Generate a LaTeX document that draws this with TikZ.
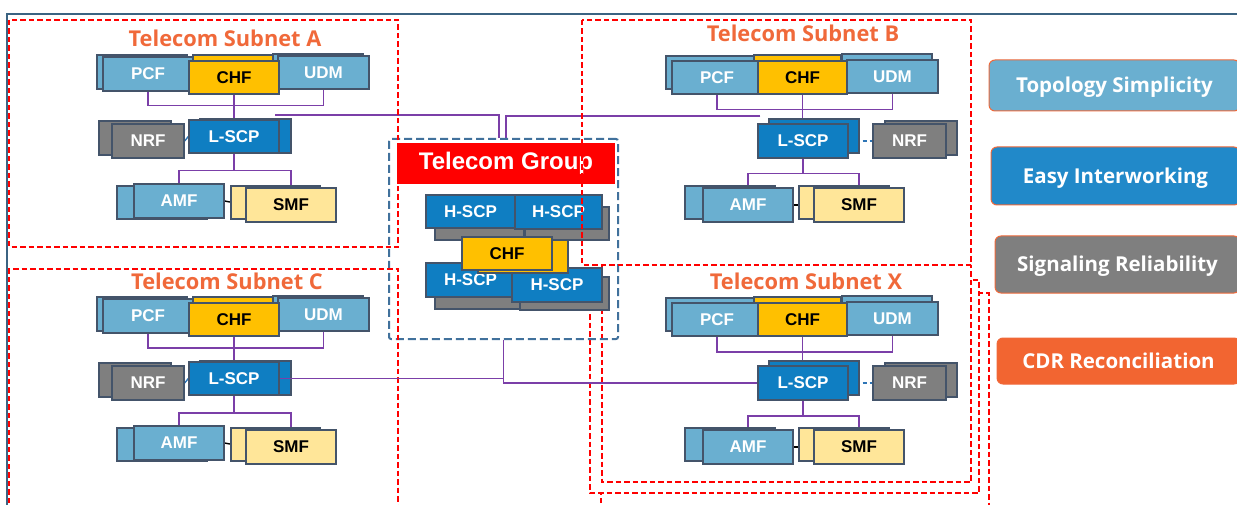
\documentclass[tikz,border=0pt]{standalone}
\usepackage{fontspec}
\setmainfont{Liberation Sans}
\newfontfamily\segfont{Open Sans}
\usetikzlibrary{calc}
\pgfdeclarelayer{rects}
\pgfdeclarelayer{lines}
\pgfdeclarelayer{top}
\pgfsetlayers{rects,lines,main,top}
\definecolor{lblue}{HTML}{6AAFD0}
\definecolor{dblue}{HTML}{0F7EC2}
\definecolor{nrfgray}{HTML}{7F7F7F}
\definecolor{chfy}{HTML}{FFC000}
\definecolor{smfy}{HTML}{FFE699}
\definecolor{edgec}{HTML}{44546A}
\definecolor{purp}{HTML}{7B3FA8}
\definecolor{grpblue}{HTML}{41719C}
\definecolor{framec}{HTML}{3B6382}
\definecolor{torange}{HTML}{F0693A}
\definecolor{easyblue}{HTML}{2189C9}
\definecolor{cdrc}{HTML}{F26531}
\definecolor{nrfline}{HTML}{2E75B6}
\tikzset{
  nf/.style={draw=edgec, line width=1.3pt, inner sep=0pt, text=white,
    font=\bfseries\fontsize{17}{17}\selectfont},
  lb/.style={nf, fill=lblue},
  db/.style={nf, fill=dblue},
  gy/.style={nf, fill=nrfgray},
  cy/.style={nf, fill=chfy, text=black},
  sy/.style={nf, fill=smfy, text=black},
  pl/.style={draw=purp, line width=1.7pt},
  bk/.style={draw=black, line width=1.4pt},
  nl/.style={draw=nrfline, line width=1.4pt},
  nld/.style={nl, dash pattern=on 4pt off 3pt},
  rd/.style={draw=red, line width=1.6pt, dash pattern=on 5.5pt off 3pt},
  ttl/.style={text=torange, anchor=base, inner sep=0pt,
    font=\segfont\bfseries\fontsize{21.8}{21.8}\selectfont},
  lg/.style={draw=torange, line width=1pt, rounded corners=6pt, text=white,
    inner sep=0pt, text height=14.6pt, text depth=0pt,
    font=\segfont\bfseries\fontsize{20.5}{20.5}\selectfont},
}
\newcommand\rb[7]{\node[#1, minimum width={#4-#2}, minimum height={#5-#3}] (#6) at ({(#2+#4)/2},{(#3+#5)/2}) {#7};}
% left-type subnet (A, C)
\newcommand\subL[2]{%
\begin{scope}[shift={(0,#2)}]
 \rb{lb}{97}{55}{187}{89}{pcf#1b}{}
 \rb{cy}{193}{55}{275}{88}{chf#1b}{}
 \rb{lb}{273}{54}{363}{87}{udm#1b}{}
 \rb{db}{200}{119}{291}{153}{lscp#1b}{}
 \rb{gy}{99}{121}{171}{155}{nrf#1b}{}
 \rb{lb}{117}{186}{207}{219}{amf#1b}{}
 \rb{sy}{231}{186}{320}{219}{smf#1b}{}
 \rb{lb}{103}{57}{193}{91}{pcf#1}{PCF}
 \rb{lb}{278}{56}{369}{89}{udm#1}{UDM}
 \rb{cy}{189}{61}{279}{94}{chf#1}{CHF}
 \rb{db}{189}{120}{279}{153}{lscp#1}{L-SCP}
 \rb{gy}{112}{124}{184}{158}{nrf#1}{NRF}
 \rb{lb}{134}{184}{224}{218}{amf#1}{AMF}
 \rb{sy}{246}{188}{336}{222}{smf#1}{SMF}
\end{scope}
\begin{pgfonlayer}{lines}
 \draw[pl] (pcf#1.south) -- ++(0,14) -| (udm#1.south);
 \draw[pl] (chf#1.south) -- (lscp#1.north);
 \draw[pl] (lscp#1.south) -- ++(0,17) coordinate (j#1);
 \draw[pl] (amf#1.north) |- (j#1) -| (smf#1.north);
 \draw[bk] (amf#1.east) -- (smf#1.west);
 \draw[nl] (nrf#1.east) -- (lscp#1.west);
\end{pgfonlayer}}
% right-type subnet (B, X)
\newcommand\subR[2]{%
\begin{scope}[shift={(0,#2)}]
 \rb{lb}{666}{56}{756}{89}{pcf#1b}{}
 \rb{cy}{754}{55}{841}{88}{chf#1b}{}
 \rb{lb}{842}{54}{932}{87}{udm#1b}{}
 \rb{db}{769}{119}{859}{153}{lscp#1b}{}
 \rb{gy}{885}{121}{957}{155}{nrf#1b}{}
 \rb{lb}{685}{186}{775}{219}{amf#1b}{}
 \rb{sy}{799}{186}{889}{219}{smf#1b}{}
 \rb{lb}{672}{61}{762}{94}{pcf#1}{PCF}
 \rb{lb}{847}{60}{938}{93}{udm#1}{UDM}
 \rb{cy}{758}{61}{847}{94}{chf#1}{CHF}
 \rb{db}{758}{124}{848}{158}{lscp#1}{L-SCP}
 \rb{gy}{873}{124}{946}{158}{nrf#1}{NRF}
 \rb{lb}{703}{188}{793}{222}{amf#1}{AMF}
 \rb{sy}{814}{188}{904}{222}{smf#1}{SMF}
\end{scope}
\begin{pgfonlayer}{lines}
 \draw[pl] (pcf#1.south) -- ++(0,15) -| (udm#1.south);
 \draw[pl] (chf#1.south) -- (chf#1.south |- lscp#1.north);
 \draw[pl] (lscp#1.south) -- ++(0,15) coordinate (j#1);
 \draw[pl] (amf#1.north) |- (j#1) -| (smf#1.north);
 \draw[bk] (amf#1.east) -- (smf#1.west);
 \draw[nld] (lscp#1.east) -- (nrf#1.west);
\end{pgfonlayer}}
\begin{document}
\begin{tikzpicture}[x=1pt, y=-1pt]
\useasboundingbox (0,0) rectangle (1237,505);
% outer frame
\draw[draw=framec, line width=2pt] (7,506) -- (7,14) -- (1238,14);
% subnet X stacked dashed frames (white-filled, back to front)
\begin{pgfonlayer}{rects}
 \fill[white] (601,293) rectangle (989,520);
 \draw[rd] (601,520) -- (601,293) -- (989,293) -- (989,520);
 \fill[white] (590,280) rectangle (979,493);
 \draw[rd] (590,280) rectangle (979,493);
 \fill[white] (602,265) rectangle (971,482);
 \draw[rd] (602,266) -- (602,482) -- (971,482) -- (971,266);
\end{pgfonlayer}
% subnet A, B, C frames
\begin{pgfonlayer}{top}
 \draw[rd] (9,20) rectangle (398,247);
 \draw[rd] (9,520) -- (9,269) -- (398,269) -- (398,520);
 \draw[rd] (582,20) rectangle (971,265);
\end{pgfonlayer}
% titles
\node[ttl] (tA) at (225,47) {Telecom Subnet A};
\node[ttl] (tB) at (803,42) {Telecom Subnet B};
\node[ttl] (tC) at (227,289) {Telecom Subnet C};
\node[ttl] (tX) at (806,289) {Telecom Subnet X};
% subnets
\subL{A}{0}
\subL{C}{242}
\subR{B}{0}
\subR{X}{242}
% telecom group
\node[draw=grpblue, line width=2pt, dash pattern=on 8pt off 4pt, rounded corners=2pt,
  minimum width=229, minimum height=200] (grp) at (503.5,239) {};
\rb{nf, fill=red, draw=none, font=\bfseries\fontsize{24}{24}\selectfont}{397}{143}{615}{184}{banner}{Telecom Group}
\rb{gy}{435}{207}{524}{240}{hg1}{}
\rb{gy}{525}{207}{609}{240}{hg2}{}
\rb{gy}{435}{275}{524}{309}{hg3}{}
\rb{gy}{520}{277}{609}{310}{hg4}{}
\rb{db}{426}{195}{515}{228}{hscp1}{H-SCP}
\rb{db}{515}{195}{602}{229}{hscp2}{H-SCP}
\rb{db}{426}{263}{515}{297}{hscp3}{H-SCP}
\rb{db}{512}{268}{602}{302}{hscp4}{H-SCP}
\rb{cy}{478}{240}{568}{273}{chfGb}{}
\rb{cy}{462}{237}{552}{270}{chfG}{CHF}
% connections to group
\begin{pgfonlayer}{lines}
 \draw[pl] ($(lscpAb.north)+(29.5,-3)$) -| ($(grp.north)+(-4.5,0)$);
 \draw[pl] ($(lscpBb.north west)+(-8,-2)$) -| ($(grp.north)+(2.5,0)$);
\end{pgfonlayer}
\begin{pgfonlayer}{top}
 \draw[pl] (lscpC.east) -| (grp.south);
 \draw[pl] (grp.south) |- (lscpX.west);
\end{pgfonlayer}
% legend
\node[lg, fill=lblue, minimum width=251, minimum height=51] (topo) at (1114.5,85.5) {Topology Simplicity};
\node[lg, fill=easyblue, minimum width=249, minimum height=58] (easy) at (1115.5,176) {Easy Interworking};
\node[lg, fill=nrfgray, minimum width=245, minimum height=57] (sig) at (1117.5,264.5) {Signaling Reliability};
\node[lg, fill=cdrc, minimum width=243, minimum height=46] (cdr) at (1118.5,361) {CDR Reconciliation};
\end{tikzpicture}
\end{document}
